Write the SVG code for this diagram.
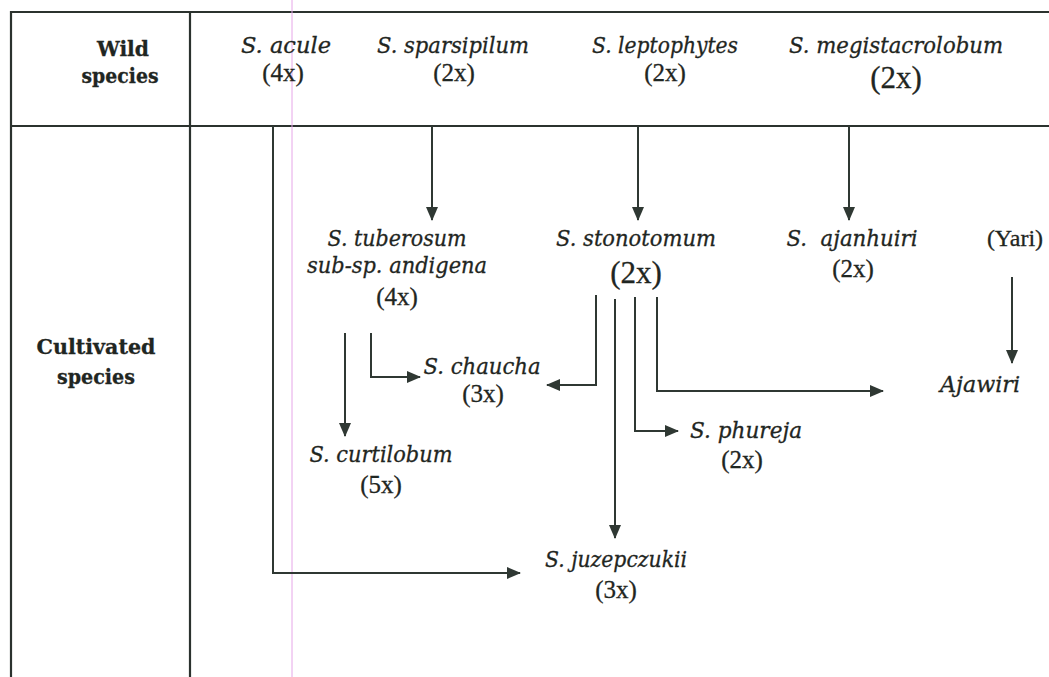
<svg xmlns="http://www.w3.org/2000/svg" width="1049" height="677" viewBox="0 0 1049 677">
  <style>
    .frame { stroke: #2b322e; stroke-width: 2.2; fill: none; }
    .link { stroke: #2f3833; stroke-width: 2; fill: none; }
    text { font-family: 'Liberation Serif', 'Times New Roman', serif; fill: #1f2622; text-anchor: middle; font-size: 25px; stroke: #1f2622; stroke-width: 0.3; }
    .hdr { font-family: 'DejaVu Serif', serif; font-weight: bold; font-size: 21px; }
    .sp { font-family: 'DejaVu Serif', serif; font-style: italic; font-size: 22px; }
    .big { font-size: 31px; }
  </style>
  <defs>
    <marker id="arrow" viewBox="0 0 14 12" refX="13" refY="6" markerWidth="14" markerHeight="12" markerUnits="userSpaceOnUse" orient="auto">
      <path d="M0,0 L14,6 L0,12 Z" fill="#2f3833"/>
    </marker>
  </defs>

  <rect width="1049" height="677" fill="#ffffff"/>

  <!-- table frame -->
  <g id="table">
    <path class="frame" d="M11,677 V12 H1049"/>
    <path class="frame" d="M190,12 V677"/>
    <path class="frame" d="M11,126 H1049"/>
  </g>

  <!-- faint vertical guide line -->
  <line x1="292" y1="0" x2="292" y2="677" stroke="#e6a6e8" stroke-width="1"/>

  <!-- row headings -->
  <g id="row-wild">
    <text class="hdr" x="123" y="56" textLength="52" lengthAdjust="spacingAndGlyphs">Wild</text>
    <text class="hdr" x="120" y="83" textLength="77" lengthAdjust="spacingAndGlyphs">species</text>
  </g>
  <g id="row-cultivated">
    <text class="hdr" x="96" y="354" textLength="119" lengthAdjust="spacingAndGlyphs">Cultivated</text>
    <text class="hdr" x="96" y="384" textLength="78" lengthAdjust="spacingAndGlyphs">species</text>
  </g>

  <!-- wild species -->
  <g id="acule">
    <text class="sp" x="286" y="53" textLength="90" lengthAdjust="spacingAndGlyphs">S. acule</text>
    <text x="283" y="81">(4x)</text>
  </g>
  <g id="sparsipilum">
    <text class="sp" x="453" y="53" textLength="152" lengthAdjust="spacingAndGlyphs">S. sparsipilum</text>
    <text x="454" y="81">(2x)</text>
  </g>
  <g id="leptophytes">
    <text class="sp" x="665" y="53" textLength="146" lengthAdjust="spacingAndGlyphs">S. leptophytes</text>
    <text x="665" y="81">(2x)</text>
  </g>
  <g id="megistacrolobum">
    <text class="sp" x="896" y="53" textLength="214" lengthAdjust="spacingAndGlyphs">S. megistacrolobum</text>
    <text class="big" x="896" y="88">(2x)</text>
  </g>

  <!-- cultivated species -->
  <g id="tuberosum">
    <text class="sp" x="397" y="246" textLength="139" lengthAdjust="spacingAndGlyphs">S. tuberosum</text>
    <text class="sp" x="397" y="273" textLength="180" lengthAdjust="spacingAndGlyphs">sub-sp. andigena</text>
    <text x="397" y="305">(4x)</text>
  </g>
  <g id="stonotomum">
    <text class="sp" x="636" y="246" textLength="160" lengthAdjust="spacingAndGlyphs">S. stonotomum</text>
    <text class="big" x="636" y="283">(2x)</text>
  </g>
  <g id="ajanhuiri">
    <text class="sp" x="852" y="246" textLength="131" lengthAdjust="spacingAndGlyphs" xml:space="preserve">S.  ajanhuiri</text>
    <text x="853" y="277">(2x)</text>
  </g>
  <g id="yari">
    <text x="1015" y="246" style="font-size:24px">(Yari)</text>
  </g>
  <g id="ajawiri">
    <text class="sp" x="980" y="392" textLength="80" lengthAdjust="spacingAndGlyphs">Ajawiri</text>
  </g>
  <g id="chaucha">
    <text class="sp" x="482" y="374" textLength="117" lengthAdjust="spacingAndGlyphs">S. chaucha</text>
    <text x="483" y="402">(3x)</text>
  </g>
  <g id="phureja">
    <text class="sp" x="746" y="438" textLength="112" lengthAdjust="spacingAndGlyphs">S. phureja</text>
    <text x="742" y="468">(2x)</text>
  </g>
  <g id="curtilobum">
    <text class="sp" x="381" y="462" textLength="143" lengthAdjust="spacingAndGlyphs">S. curtilobum</text>
    <text x="381" y="493">(5x)</text>
  </g>
  <g id="juzepczukii">
    <text class="sp" x="616" y="567" textLength="142" lengthAdjust="spacingAndGlyphs">S. juzepczukii</text>
    <text x="616" y="598">(3x)</text>
  </g>

  <!-- connectors -->
  <g id="connectors">
    <path class="link" marker-end="url(#arrow)" d="M273,126 V573 H520"/>
    <path class="link" marker-end="url(#arrow)" d="M432,126 V220"/>
    <path class="link" marker-end="url(#arrow)" d="M638,126 V220"/>
    <path class="link" marker-end="url(#arrow)" d="M849,126 V220"/>
    <path class="link" marker-end="url(#arrow)" d="M1012,277 V363"/>
    <path class="link" marker-end="url(#arrow)" d="M345,333 V436"/>
    <path class="link" marker-end="url(#arrow)" d="M371,333 V377 H420"/>
    <path class="link" marker-end="url(#arrow)" d="M596,295 V385 H547"/>
    <path class="link" marker-end="url(#arrow)" d="M615,299 V538"/>
    <path class="link" marker-end="url(#arrow)" d="M635,297 V431 H678"/>
    <path class="link" marker-end="url(#arrow)" d="M657,297 V391 H883"/>
  </g>
</svg>
